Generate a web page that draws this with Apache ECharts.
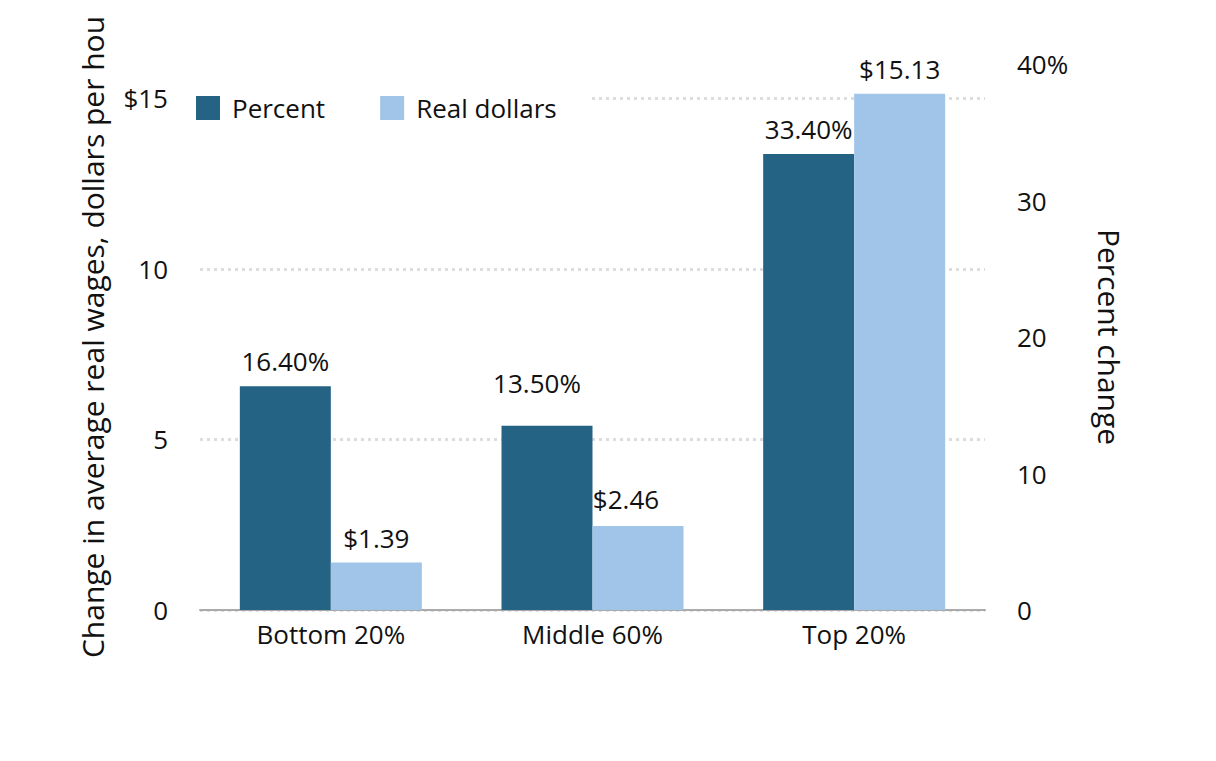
<!DOCTYPE html>
<html>
<head>
<meta charset="utf-8">
<script src="https://cdn.jsdelivr.net/npm/echarts@6/dist/echarts.min.js"></script>
<style>html,body{margin:0;padding:0;background:#fff;}#c{width:1216px;height:761px;}</style>
</head>
<body>
<div id="c"></div>
<script>
const categories = ['Bottom 20%', 'Middle 60%', 'Top 20%'];
const percentValues = [16.4, 13.5, 33.4];
const dollarValues = [1.39, 2.46, 15.13];
const leftTicks = [0, 5, 10, 15];
const rightTicks = [0, 10, 20, 30, 40];

const FONT = '"Open Sans"';
const FS = 26;
const chart = echarts.init(document.getElementById('c'), null, {renderer: 'svg'});

const percentLabelOffsets = [[0, 0], [-10, -18], [0, 0]];
const dollarLabelOffsets = [[0, 0], [-12, -2], [0, 0]];

chart.setOption({
  backgroundColor: '#fff',
  animation: false,
  textStyle: {fontFamily: FONT},
  legend: {
    data: ['Percent', 'Real dollars'],
    left: 188, top: 87,
    itemWidth: 24, itemHeight: 24, itemGap: 55,
    padding: [8, 34, 8, 8],
    backgroundColor: '#fff',
    icon: 'rect',
    textStyle: {fontFamily: FONT, fontSize: FS, color: '#111', padding: [0, 0, 0, 7]}
  },
  grid: {left: 200, right: 231, top: 64, bottom: 151, containLabel: false},
  xAxis: {
    type: 'category',
    data: categories,
    axisTick: {show: false},
    axisLine: {lineStyle: {color: '#aaa', width: 2}},
    axisLabel: {fontFamily: FONT, fontSize: FS, color: '#111', margin: 11}
  },
  yAxis: [
    {
      type: 'value', min: 0, max: 16, interval: 5,
      position: 'left',
      name: 'Change in average real wages, dollars per hour',
      nameLocation: 'middle', nameGap: 93,
      nameTruncate: {maxWidth: 652, ellipsis: ''},
      nameTextStyle: {fontFamily: FONT, fontSize: 30, color: '#111'},
      axisLine: {show: false}, axisTick: {show: false},
      axisLabel: {
        fontFamily: FONT, fontSize: FS, color: '#111', margin: 32,
        showMaxLabel: false,
        formatter: v => leftTicks.includes(v) ? (v === 15 ? '$15' : String(v)) : ''
      },
      splitLine: {show: true, showMaxLine: false, lineStyle: {color: '#ddd', width: 3, type: [3, 4]}}
    },
    {
      type: 'value', min: 0, max: 40, interval: 10,
      position: 'right',
      name: 'Percent change',
      nameLocation: 'middle', nameGap: 109, nameRotate: -90,
      nameTextStyle: {fontFamily: FONT, fontSize: 30, color: '#111'},
      axisLine: {show: false}, axisTick: {show: false},
      axisLabel: {
        fontFamily: FONT, fontSize: FS, color: '#111', margin: 32,
        formatter: v => rightTicks.includes(v) ? (v === 40 ? '40%' : String(v)) : ''
      },
      splitLine: {show: false}
    }
  ],
  series: [
    {
      name: 'Percent', type: 'bar', yAxisIndex: 1,
      barWidth: 91, barGap: '0%',
      itemStyle: {color: '#256385'},
      data: percentValues.map((v, i) => ({
        value: v,
        label: {offset: percentLabelOffsets[i]}
      })),
      label: {
        show: true, position: 'top', distance: 12,
        fontFamily: FONT, fontSize: FS, color: '#111',
        formatter: p => p.value.toFixed(2) + '%'
      }
    },
    {
      name: 'Real dollars', type: 'bar', yAxisIndex: 0,
      barWidth: 91, barGap: '0%',
      itemStyle: {color: '#a0c5e8'},
      data: dollarValues.map((v, i) => ({
        value: v,
        label: {offset: dollarLabelOffsets[i]}
      })),
      label: {
        show: true, position: 'top', distance: 12,
        fontFamily: FONT, fontSize: FS, color: '#111',
        formatter: p => '$' + p.value.toFixed(2)
      }
    }
  ]
});
</script>
</body>
</html>
